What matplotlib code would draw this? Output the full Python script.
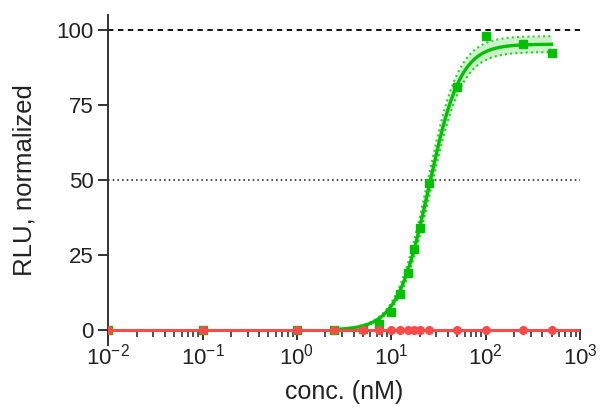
import numpy as np
import matplotlib.pyplot as plt
from matplotlib.ticker import LogLocator, NullFormatter

plt.rcParams['font.family'] = ['Liberation Sans', 'DejaVu Sans']
plt.rcParams['mathtext.fontset'] = 'custom'
plt.rcParams['mathtext.rm'] = 'Liberation Sans'
plt.rcParams['mathtext.it'] = 'Liberation Sans'

# concentrations (nM)
conc = [0.01, 0.1, 1, 2.5, 5, 7.5, 10, 12.5, 15, 17.5, 20, 25, 50, 100, 250, 500]
# normalized RLU
green_y = [0, 0, 0, 0, 0.5, 2, 6, 12, 19, 27, 34, 49, 81, 98, 95.5, 92.2]
red_y = [0] * len(conc)

# fit parameters (4PL, bottom=0)
top, ec50, hill = 95.3, 25.0, 2.6
top_hi, ec50_hi = 98.0, 24.0
top_lo, ec50_lo = 92.7, 26.0
fit_range = (2.8, 500)

green = '#00c000'
red = '#ff4a4a'

xf = np.logspace(np.log10(fit_range[0]), np.log10(fit_range[1]), 300)


def hill_curve(x, t, e, n):
    return t / (1 + (e / x) ** n)


fit = hill_curve(xf, top, ec50, hill)
hi = hill_curve(xf, top_hi, ec50_hi, hill)
lo = hill_curve(xf, top_lo, ec50_lo, hill)

fig = plt.figure(figsize=(6.01, 4.07), dpi=100)
ax = fig.add_axes([0.18, 0.152, 0.785, 0.811])

ax.axhline(100, color='black', lw=1.3, ls=(0, (3, 2.5)), zorder=1)
ax.axhline(50, color='#333333', lw=1.2, ls=(0, (1, 1.8)), zorder=1)

ax.fill_between(xf, lo, hi, color=green, alpha=0.2, lw=0, zorder=2)
ax.plot(xf, hi, color=green, lw=1.5, ls=(0, (1, 1.5)), alpha=0.8, zorder=2)
ax.plot(xf, lo, color=green, lw=1.5, ls=(0, (1, 1.5)), alpha=0.8, zorder=2)
ax.plot(xf, fit, color=green, lw=2.4, zorder=3)
ax.plot(conc, green_y, 's', color=green, ms=6, zorder=3)

ax.plot([0.01, 1000], [0, 0], color=red, lw=2.2, zorder=4)
ax.plot(conc, red_y, 'o', color=red, ms=5.5, zorder=5)

ax.set_xscale('log')
ax.set_xlim(0.01, 1000)
ax.set_ylim(-5, 105)
ax.set_yticks([0, 25, 50, 75, 100])
ax.xaxis.set_major_locator(LogLocator(base=10, numticks=10))
ax.xaxis.set_minor_locator(LogLocator(base=10, subs=np.arange(2, 10), numticks=20))
ax.xaxis.set_minor_formatter(NullFormatter())

for s in ['top', 'right']:
    ax.spines[s].set_visible(False)
ax.spines['bottom'].set_position(('data', 0))
for s in ['left', 'bottom']:
    ax.spines[s].set_color('#333333')
    ax.spines[s].set_linewidth(1.4)

ax.tick_params(axis='both', which='major', direction='out', length=7, width=1.4,
               color='#333333', labelsize=16, labelcolor='#222222')
ax.tick_params(axis='x', which='minor', direction='out', length=5, width=1.2, color='#333333')
ax.tick_params(axis='x', which='major', pad=3)

ax.set_xlabel('conc. (nM)', fontsize=18, color='#222222')
ax.xaxis.set_label_coords(0.5, -0.105)
ax.set_ylabel('RLU, normalized', fontsize=18.5, color='#222222')
ax.yaxis.set_label_coords(-0.152, 0.5)

fig.savefig('out.png', dpi=100)
